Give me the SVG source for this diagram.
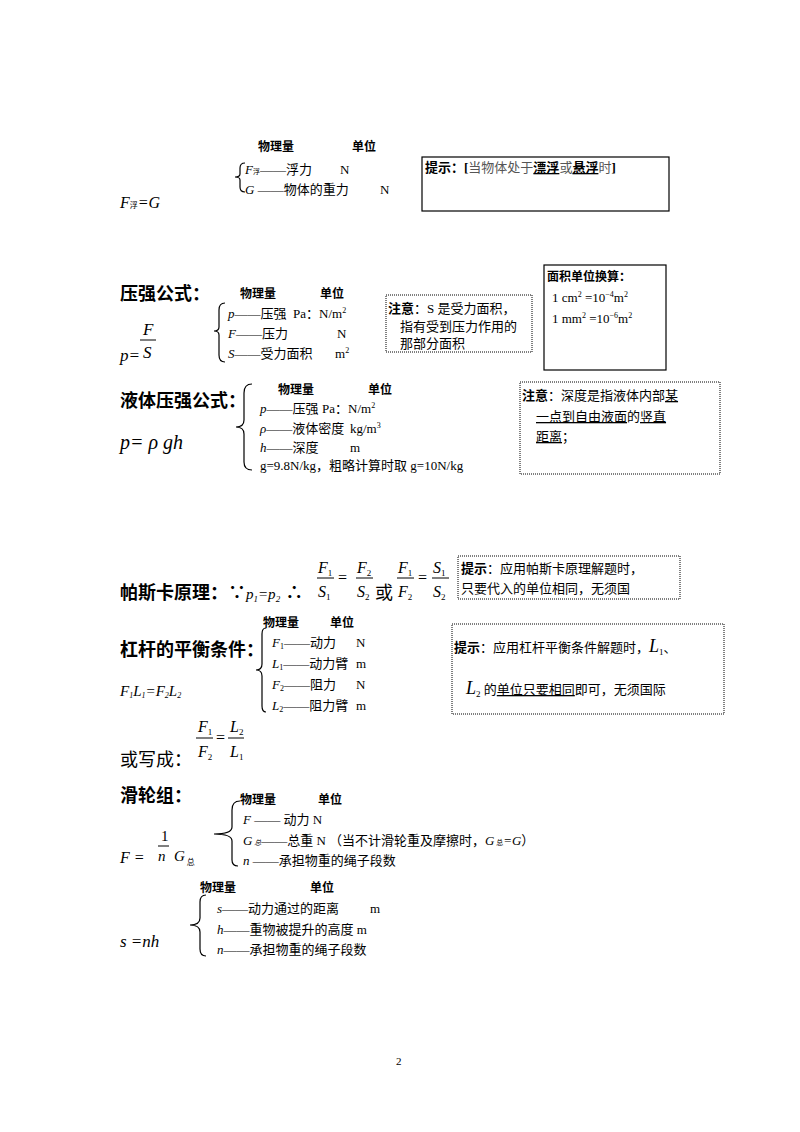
<svg xmlns="http://www.w3.org/2000/svg" width="800" height="1132" viewBox="0 0 800 1132">
<style>
svg{font-size:13px}
text{font-family:"Liberation Serif","Noto Sans CJK SC",serif;fill:#000}
.h{font-size:12px;font-weight:bold}
.t{font-size:18px;font-weight:bold;font-family:"Liberation Sans","Noto Sans CJK SC",sans-serif}
.i{font-style:italic}
.big{font-size:20px;font-style:italic}
.g{fill:#555}
.br{fill:none;stroke:#000;stroke-width:1.2}
.box{fill:none;stroke:#000;stroke-width:1.2}
.dot{fill:none;stroke:#000;stroke-width:1;stroke-dasharray:1 1}
.ln{stroke:#000;stroke-width:1}
</style>
<rect width="800" height="1132" fill="#fff"/>
<g id="sec1">
<text class="h" x="258" y="151">物理量</text><text class="h" x="352" y="151">单位</text>
<path class="br" d="M245,163 Q240,163 240,168 L240,174 Q240,177 235,177 Q240,177 240,180 L240,187 Q240,192 245,192"/>
<text x="245" y="174"><tspan class="i">F</tspan><tspan font-size="7">浮</tspan>——浮力</text><text x="340" y="174">N</text>
<text x="245" y="194"><tspan class="i">G</tspan> ——物体的重力</text><text x="380" y="194">N</text>
<text x="120" y="208" font-size="16" class="i">F<tspan font-size="8" font-style="normal">浮</tspan>=G</text>
<rect class="box" x="422" y="157" width="247" height="54"/>
<text x="425" y="172"><tspan font-weight="bold">提示：[</tspan><tspan class="g">当物体处于</tspan><tspan font-weight="bold" text-decoration="underline">漂浮</tspan><tspan class="g">或</tspan><tspan font-weight="bold" text-decoration="underline">悬浮</tspan><tspan class="g">时</tspan><tspan font-weight="bold">]</tspan></text>
</g>
<g id="sec2">
<text class="t" x="120" y="300">压强公式：</text>
<text class="h" x="240" y="298">物理量</text><text class="h" x="320" y="298">单位</text>
<path class="br" d="M225,303 Q219,303 219,310 L219,327 Q219,331 214,331 Q219,331 219,335 L219,355 Q219,362 225,362"/>
<text x="228" y="318"><tspan class="i">p</tspan>——压强</text><text x="293" y="318">Pa：N/m<tspan font-size="8" dy="-5">2</tspan></text>
<text x="228" y="338"><tspan class="i">F</tspan>——压力</text><text x="337" y="338">N</text>
<text x="228" y="358"><tspan class="i">S</tspan>——受力面积</text><text x="335" y="358">m<tspan font-size="8" dy="-5">2</tspan></text>
<text x="143" y="335" font-size="17" class="i">F</text><line class="ln" x1="140" y1="340" x2="156" y2="340"/>
<text x="143" y="358" font-size="17" class="i">S</text><text x="120" y="361" font-size="17" class="i">p=</text>
<rect class="dot" x="386" y="295" width="146" height="57"/>
<text x="388" y="313"><tspan font-weight="bold">注意</tspan>：S 是受力面积，</text>
<text x="400" y="331">指有受到压力作用的</text><text x="400" y="348">那部分面积</text>
<rect class="box" x="544" y="265" width="122" height="105"/>
<text class="h" x="547" y="281">面积单位换算：</text>
<text x="552" y="302">1 cm<tspan font-size="8" dy="-5">2</tspan><tspan dy="5">  =10</tspan><tspan font-size="8" dy="-5">−4</tspan><tspan dy="5">m</tspan><tspan font-size="8" dy="-5">2</tspan></text>
<text x="552" y="323">1 mm<tspan font-size="8" dy="-5">2</tspan><tspan dy="5">  =10</tspan><tspan font-size="8" dy="-5">−6</tspan><tspan dy="5">m</tspan><tspan font-size="8" dy="-5">2</tspan></text>
</g>
<g id="sec3">
<text class="t" x="120" y="407">液体压强公式：</text>
<text class="h" x="278" y="394">物理量</text><text class="h" x="368" y="394">单位</text>
<path class="br" d="M252,384 Q244,384 244,393 L244,420 Q244,427 236,427 Q244,427 244,434 L244,462 Q244,470 252,470"/>
<text x="260" y="413"><tspan class="i">p</tspan>——压强</text><text x="322" y="413">Pa：N/m<tspan font-size="8" dy="-5">2</tspan></text>
<text x="260" y="433"><tspan class="i">ρ</tspan>——液体密度</text><text x="350" y="433">kg/m<tspan font-size="8" dy="-5">3</tspan></text>
<text x="260" y="452"><tspan class="i">h</tspan>——深度</text><text x="350" y="452">m</text>
<text x="260" y="470">g=9.8N/kg，粗略计算时取 g=10N/kg</text>
<text x="120" y="449" class="big">p= ρ gh</text>
<rect class="dot" x="520" y="382" width="200" height="92"/>
<text x="522" y="400"><tspan font-weight="bold">注意</tspan>：深度是指液体内部<tspan text-decoration="underline">某</tspan></text>
<text x="536" y="421"><tspan text-decoration="underline">一点到自由液面</tspan>的<tspan text-decoration="underline">竖直</tspan></text>
<text x="536" y="441"><tspan text-decoration="underline">距离</tspan>；</text>
</g>
<g id="sec4">
<text class="t" x="120" y="599">帕斯卡原理：∵<tspan class="i" font-weight="normal" font-size="15" font-family="Liberation Serif">p<tspan font-size="9" dy="3">1</tspan><tspan dy="-3">=p</tspan><tspan font-size="9" dy="3">2</tspan></tspan><tspan dy="-3"> ∴</tspan></text>
<g font-size="16">
<text x="318" y="573" class="i">F<tspan font-size="9" font-style="normal" dy="3">1</tspan></text><line class="ln" x1="317" y1="578" x2="334" y2="578"/><text x="318" y="597" class="i">S<tspan font-size="9" font-style="normal" dy="3">1</tspan></text>
<text x="338" y="583">=</text>
<text x="357" y="573" class="i">F<tspan font-size="9" font-style="normal" dy="3">2</tspan></text><line class="ln" x1="356" y1="578" x2="373" y2="578"/><text x="357" y="597" class="i">S<tspan font-size="9" font-style="normal" dy="3">2</tspan></text>
<text x="398" y="573" class="i">F<tspan font-size="9" font-style="normal" dy="3">1</tspan></text><line class="ln" x1="397" y1="578" x2="414" y2="578"/><text x="398" y="597" class="i">F<tspan font-size="9" font-style="normal" dy="3">2</tspan></text>
<text x="418" y="583">=</text>
<text x="433" y="573" class="i">S<tspan font-size="9" font-style="normal" dy="3">1</tspan></text><line class="ln" x1="432" y1="578" x2="449" y2="578"/><text x="433" y="597" class="i">S<tspan font-size="9" font-style="normal" dy="3">2</tspan></text>
</g>
<text x="375" y="599" font-size="18">或</text>
<rect class="dot" x="458" y="556" width="222" height="43"/>
<text x="461" y="573"><tspan font-weight="bold">提示</tspan>：应用帕斯卡原理解题时，</text>
<text x="461" y="593">只要代入的单位相同，无须国</text>
</g>
<g id="sec5">
<text class="t" x="120" y="656">杠杆的平衡条件：</text>
<text class="h" x="263" y="627">物理量</text><text class="h" x="330" y="627">单位</text>
<path class="br" d="M266,628 Q262,628 262,634 L262,664 Q262,670 256,670 Q262,670 262,676 L262,706 Q262,712 266,712"/>
<text x="272" y="647" class="i">F<tspan font-size="8" font-style="normal" dy="2">1</tspan><tspan font-style="normal" dy="-2">——动力</tspan></text><text x="356" y="647">N</text>
<text x="272" y="668" class="i">L<tspan font-size="8" font-style="normal" dy="2">1</tspan><tspan font-style="normal" dy="-2">——动力臂</tspan></text><text x="356" y="668">m</text>
<text x="272" y="689" class="i">F<tspan font-size="8" font-style="normal" dy="2">2</tspan><tspan font-style="normal" dy="-2">——阻力</tspan></text><text x="356" y="689">N</text>
<text x="272" y="710" class="i">L<tspan font-size="8" font-style="normal" dy="2">2</tspan><tspan font-style="normal" dy="-2">——阻力臂</tspan></text><text x="356" y="710">m</text>
<text x="120" y="696" font-size="15" class="i">F<tspan font-size="8" dy="2">1</tspan><tspan dy="-2">L</tspan><tspan font-size="8" dy="2">1</tspan><tspan dy="-2">=F</tspan><tspan font-size="8" dy="2">2</tspan><tspan dy="-2">L</tspan><tspan font-size="8" dy="2">2</tspan></text>
<rect class="dot" x="452" y="624" width="272" height="90"/>
<text x="454" y="652"><tspan font-weight="bold">提示</tspan>：应用杠杆平衡条件解题时，<tspan class="i" font-size="18">L</tspan><tspan font-size="9" dy="3">1</tspan><tspan dy="-3">、</tspan></text>
<text x="466" y="694"><tspan class="i" font-size="18">L</tspan><tspan font-size="9" dy="3">2</tspan><tspan dy="-3"> 的</tspan><tspan text-decoration="underline">单位只要相同</tspan>即可，无须国际</text>
<text x="120" y="766" style="font-size:18px;font-family:'Liberation Sans','Noto Sans CJK SC',sans-serif">或写成：</text>
<g font-size="16">
<text x="198" y="732" class="i">F<tspan font-size="9" font-style="normal" dy="3">1</tspan></text><line class="ln" x1="196" y1="738" x2="213" y2="738"/><text x="198" y="757" class="i">F<tspan font-size="9" font-style="normal" dy="3">2</tspan></text>
<text x="216" y="743">=</text>
<text x="230" y="732" class="i">L<tspan font-size="9" font-style="normal" dy="3">2</tspan></text><line class="ln" x1="228" y1="738" x2="244" y2="738"/><text x="230" y="757" class="i">L<tspan font-size="9" font-style="normal" dy="3">1</tspan></text>
</g>
</g>
<g id="sec6">
<text class="t" x="120" y="802">滑轮组：</text>
<text class="h" x="240" y="804">物理量</text><text class="h" x="318" y="804">单位</text>
<path class="br" d="M240,801 Q232,801 232,810 L232,827 Q232,834 214,834 Q232,834 232,841 L232,860 Q232,866 238,866"/>
<text x="243" y="824"><tspan class="i">F</tspan> ——  动力   N</text>
<text x="243" y="845"><tspan class="i">G</tspan><tspan font-size="7" class="i"> 总</tspan>——总重   N   （当不计滑轮重及摩擦时，<tspan class="i">G</tspan><tspan font-size="7"> 总</tspan><tspan class="i">=G</tspan>）</text>
<text x="243" y="865"><tspan class="i">n</tspan> ——承担物重的绳子段数</text>
<text x="120" y="863" font-size="16" class="i">F =</text>
<text x="161" y="841" font-size="15">1</text><line class="ln" x1="158" y1="846" x2="169" y2="846"/>
<text x="158" y="861" font-size="15" class="i">n</text><text x="174" y="861" font-size="15" class="i">G<tspan font-size="8" font-style="normal" dy="4"> 总</tspan></text>
</g>
<g id="sec7">
<text class="h" x="200" y="892">物理量</text><text class="h" x="310" y="892">单位</text>
<path class="br" d="M206,895 Q200,895 200,902 L200,918 Q200,925 190,925 Q200,925 200,932 L200,949 Q200,956 206,956"/>
<text x="217" y="913"><tspan class="i">s</tspan>——动力通过的距离</text><text x="370" y="913">m</text>
<text x="217" y="934"><tspan class="i">h</tspan>——重物被提升的高度  m</text>
<text x="217" y="954"><tspan class="i">n</tspan>——承担物重的绳子段数</text>
<text x="120" y="947" font-size="17" class="i">s =nh</text>
</g>
<text x="396" y="1065" font-size="11">2</text>
</svg>
